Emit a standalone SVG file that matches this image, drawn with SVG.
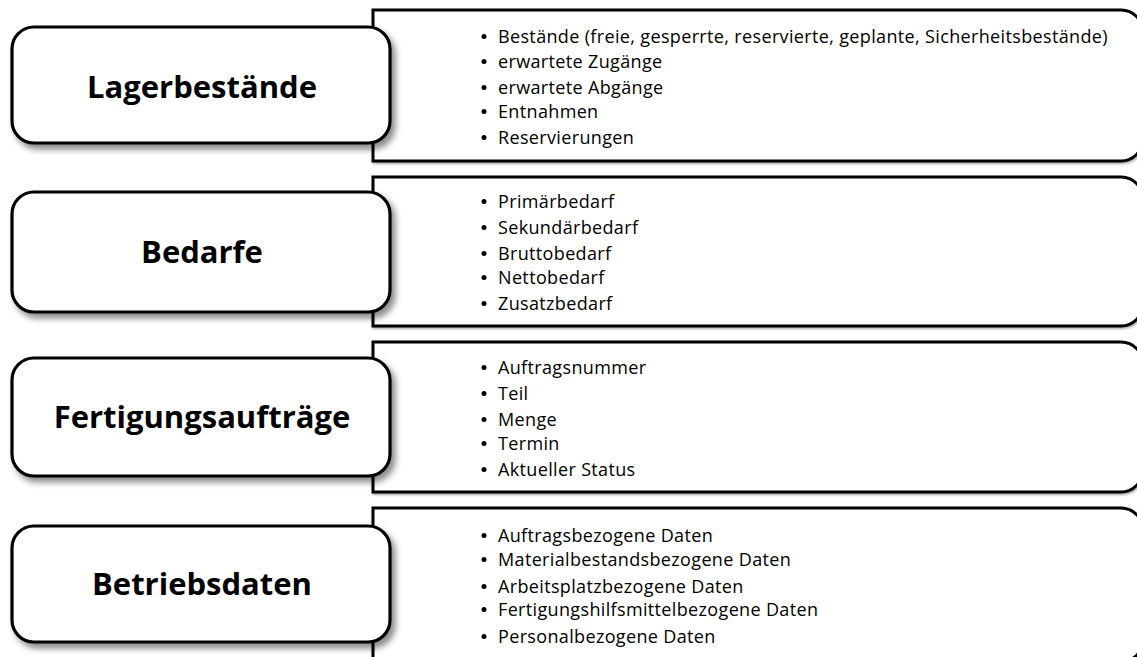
<svg xmlns="http://www.w3.org/2000/svg" width="1137" height="657" viewBox="0 0 1137 657">
  <style>
    .panel { fill: #ffffff; stroke: #000000; stroke-width: 3; }
    .title { fill: #ffffff; stroke: #000000; stroke-width: 3.2; }
    .label { font-family: "Open Sans", "Noto Sans", sans-serif; font-weight: bold; font-size: 31px; fill: #000000; text-anchor: middle; }
    .item { font-family: "Open Sans", "Noto Sans", sans-serif; font-size: 18px; letter-spacing: 0.35px; fill: #000000; }
    .dot { fill: #000000; }
  </style>
  <defs>
    <filter id="shadow" x="-10%" y="-20%" width="125%" height="150%">
      <feDropShadow dx="4" dy="5" stdDeviation="3" flood-color="#000000" flood-opacity="0.45"/>
    </filter>
    <filter id="soft" x="-5%" y="-10%" width="110%" height="125%">
      <feDropShadow dx="1" dy="1.5" stdDeviation="0.8" flood-color="#000000" flood-opacity="0.35"/>
    </filter>
  </defs>
  <rect width="1137" height="657" fill="#ffffff"/>

  <!-- Row 1: Lagerbestände -->
  <g id="lagerbestaende">
    <path class="panel" filter="url(#soft)" d="M373,10 H1121 A22,22 0 0 1 1143,32 V139 A22,22 0 0 1 1121,161 H373 Z"/>
    <g class="item">
      <circle class="dot" cx="484" cy="36.5" r="2.5"/><text x="498" y="43">Bestände (freie, gesperrte, reservierte, geplante, Sicherheitsbestände)</text>
      <circle class="dot" cx="484" cy="61.5" r="2.5"/><text x="498" y="68">erwartete Zugänge</text>
      <circle class="dot" cx="484" cy="87.5" r="2.5"/><text x="498" y="94">erwartete Abgänge</text>
      <circle class="dot" cx="484" cy="111.5" r="2.5"/><text x="498" y="118">Entnahmen</text>
      <circle class="dot" cx="484" cy="137.5" r="2.5"/><text x="498" y="144">Reservierungen</text>
    </g>
    <rect class="title" filter="url(#shadow)" x="12" y="27" width="378" height="116" rx="22" ry="22"/>
    <text class="label" x="202" y="98">Lagerbestände</text>
  </g>

  <!-- Row 2: Bedarfe -->
  <g id="bedarfe">
    <path class="panel" filter="url(#soft)" d="M373,177 H1121 A22,22 0 0 1 1143,199 V304 A22,22 0 0 1 1121,326 H373 Z"/>
    <g class="item">
      <circle class="dot" cx="484" cy="201.5" r="2.5"/><text x="498" y="208">Primärbedarf</text>
      <circle class="dot" cx="484" cy="227.5" r="2.5"/><text x="498" y="234">Sekundärbedarf</text>
      <circle class="dot" cx="484" cy="253.5" r="2.5"/><text x="498" y="260">Bruttobedarf</text>
      <circle class="dot" cx="484" cy="277.5" r="2.5"/><text x="498" y="284">Nettobedarf</text>
      <circle class="dot" cx="484" cy="303.5" r="2.5"/><text x="498" y="310">Zusatzbedarf</text>
    </g>
    <rect class="title" filter="url(#shadow)" x="12" y="192" width="378" height="120" rx="22" ry="22"/>
    <text class="label" x="202" y="263">Bedarfe</text>
  </g>

  <!-- Row 3: Fertigungsaufträge -->
  <g id="fertigungsauftraege">
    <path class="panel" filter="url(#soft)" d="M373,342 H1121 A22,22 0 0 1 1143,364 V470 A22,22 0 0 1 1121,492 H373 Z"/>
    <g class="item">
      <circle class="dot" cx="484" cy="367.5" r="2.5"/><text x="498" y="374">Auftragsnummer</text>
      <circle class="dot" cx="484" cy="393.5" r="2.5"/><text x="498" y="400">Teil</text>
      <circle class="dot" cx="484" cy="419.5" r="2.5"/><text x="498" y="426">Menge</text>
      <circle class="dot" cx="484" cy="443.5" r="2.5"/><text x="498" y="450">Termin</text>
      <circle class="dot" cx="484" cy="469.5" r="2.5"/><text x="498" y="476">Aktueller Status</text>
    </g>
    <rect class="title" filter="url(#shadow)" x="12" y="358" width="378" height="118" rx="22" ry="22"/>
    <text class="label" x="202" y="428">Fertigungsaufträge</text>
  </g>

  <!-- Row 4: Betriebsdaten (panel runs past the bottom edge) -->
  <g id="betriebsdaten">
    <path class="panel" filter="url(#soft)" d="M373,508 H1121 A22,22 0 0 1 1143,530 V640 A22,22 0 0 1 1121,662 H373 Z"/>
    <g class="item">
      <circle class="dot" cx="484" cy="535.5" r="2.5"/><text x="498" y="542">Auftragsbezogene Daten</text>
      <circle class="dot" cx="484" cy="559.5" r="2.5"/><text x="498" y="566">Materialbestandsbezogene Daten</text>
      <circle class="dot" cx="484" cy="586.5" r="2.5"/><text x="498" y="593">Arbeitsplatzbezogene Daten</text>
      <circle class="dot" cx="484" cy="609.5" r="2.5"/><text x="498" y="616">Fertigungshilfsmittelbezogene Daten</text>
      <circle class="dot" cx="484" cy="636.5" r="2.5"/><text x="498" y="643">Personalbezogene Daten</text>
    </g>
    <rect class="title" filter="url(#shadow)" x="12" y="526" width="378" height="116" rx="22" ry="22"/>
    <text class="label" x="202" y="595">Betriebsdaten</text>
  </g>

  <g id="connectors"/>
</svg>
